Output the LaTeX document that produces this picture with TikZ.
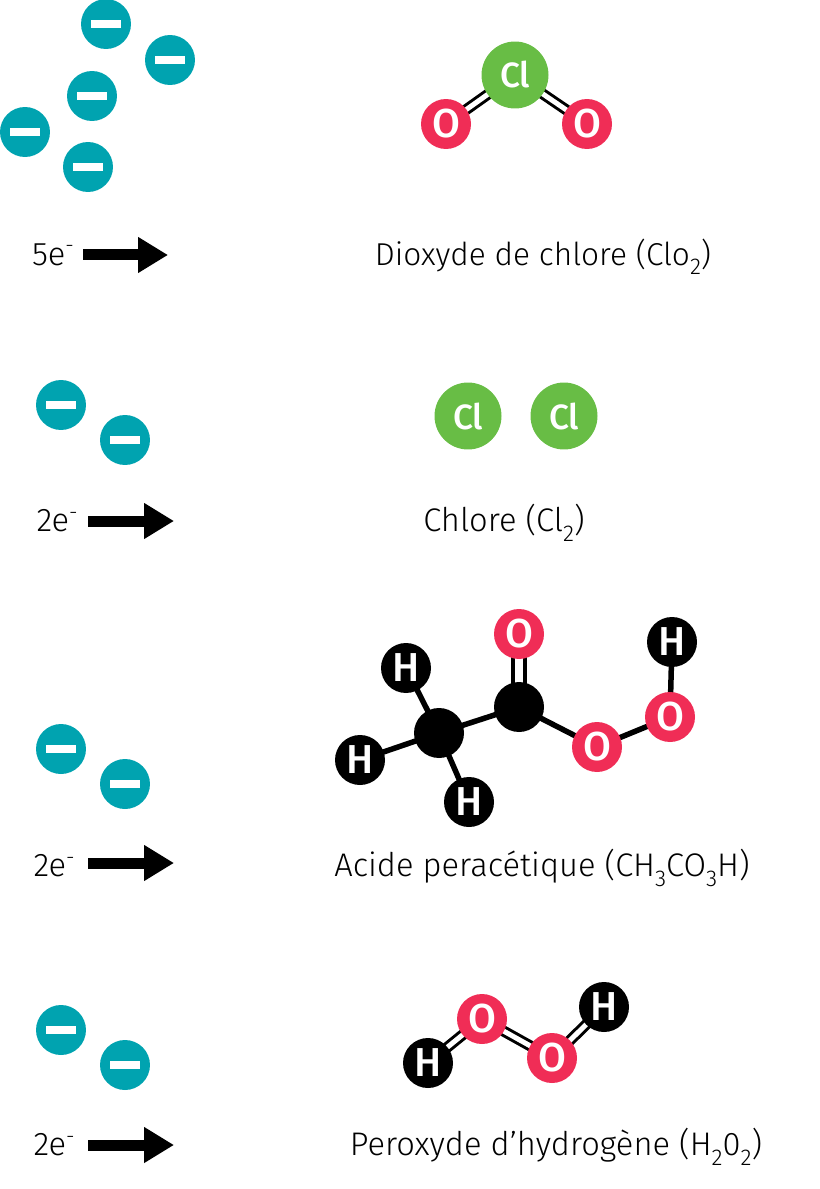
\documentclass[tikz,border=0pt]{standalone}
\usepackage{fontspec}
\setmainfont{Fira Sans}[UprightFont=* Light,BoldFont=* Medium]
\usepackage{xcolor}
\usetikzlibrary{positioning,arrows.meta,backgrounds}
\definecolor{mTeal}{HTML}{00A3B0}
\definecolor{mRed}{HTML}{F02D56}
\definecolor{mGreen}{HTML}{68BD45}
\tikzset{
 electron/.style={circle, fill=mTeal, minimum size=1cm, inner sep=0pt},
 minusbar/.style={fill=white, minimum width=0.62cm, minimum height=0.17cm, inner sep=0pt},
 atom/.style={circle, minimum size=1cm, inner sep=0pt, font=\fontsize{23}{23}\selectfont\bfseries, text=white},
 atomO/.style={atom, fill=mRed},
 atomH/.style={atom, fill=black},
 atomCl/.style={atom, fill=mGreen, minimum size=1.34cm, font=\fontsize{20}{20}\selectfont\bfseries},
 bond/.style={line width=0.11cm, shorten <=-3pt, shorten >=-3pt},
 dbond/.style={line width=0.06cm, double=white, double distance=0.1cm, shorten <=-3pt, shorten >=-3pt},
 bigarrow/.style={line width=0.22cm, -{Triangle[length=0.6cm,width=0.68cm]}},
 lbl/.style={font=\fontsize{18.6}{18.6}\selectfont, inner sep=0pt}
}
\newcommand{\elec}[3]{%
 \node[electron] (#3) at (#1,#2) {};%
 \node[minusbar] (#3b) at (#3) {};}
\newcommand{\sbs}[1]{\raisebox{-0.55ex}{\fontsize{13}{13}\selectfont #1}}
\newcommand{\sps}[1]{\raisebox{0.75ex}{\fontsize{12}{12}\selectfont #1}}
\begin{document}
\begin{tikzpicture}[x=0.02cm,y=-0.02cm]
\useasboundingbox (0,0) rectangle (819,1189);
% electrons
\elec{106}{24}{ea1}
\elec{170}{60}{ea2}
\elec{92}{96}{ea3}
\elec{25}{132}{ea4}
\elec{88}{167}{ea5}
\elec{61}{405}{eb1}
\elec{125}{440}{eb2}
\elec{61}{749}{ec1}
\elec{125}{784}{ec2}
\elec{61}{1030}{ed1}
\elec{125}{1065}{ed2}
% counts and arrows
\node[lbl] (na) at (53,255) {5e\sps{-}};
\node[lbl] (nb) at (57,521) {2e\sps{-}};
\node[lbl] (nc) at (54,866) {2e\sps{-}};
\node[lbl] (nd) at (54,1145) {2e\sps{-}};
\coordinate (aas) at (83,255);
\coordinate (aae) at (168,255);
\coordinate (abs) at (88,521);
\coordinate (abe) at (174,521);
\coordinate (acs) at (88,863);
\coordinate (ace) at (174,863);
\coordinate (ads) at (88,1145);
\coordinate (ade) at (174,1145);
\draw[bigarrow] (aas) -- (aae);
\draw[bigarrow] (abs) -- (abe);
\draw[bigarrow] (acs) -- (ace);
\draw[bigarrow] (ads) -- (ade);
% chlorine dioxide
\node[atomCl] (cl) at (515,75) {Cl};
\node[atomO] (o1) at (446,124) {O};
\node[atomO] (o2) at (587,124) {O};
\node[lbl, font=\fontsize{18}{18}\selectfont] (la) at (543,257) {Dioxyde de chlore (Clo\sbs{2})};
% chlorine
\node[atomCl] (cl1) at (468,416) {Cl};
\node[atomCl] (cl2) at (564,416) {Cl};
\node[lbl] (lb) at (504,523) {Chlore (Cl\sbs{2})};
% peracetic acid
\node[atomH] (h1) at (406,668) {H};
\node[atomH] (h2) at (360,760) {H};
\node[atomH] (h3) at (469,802) {H};
\node[atomH] (c1) at (439,733) {};
\node[atomH] (c2) at (519,707) {};
\node[atomO] (o3) at (519,634) {O};
\node[atomO] (o4) at (597,747) {O};
\node[atomO] (o5) at (670,717) {O};
\node[atomH] (h4) at (672,642) {H};
\node[lbl] (lc) at (542,868) {Acide peracétique (CH\sbs{3}CO\sbs{3}H)};
% hydrogen peroxide
\node[atomH] (h5) at (428,1063) {H};
\node[atomO] (o6) at (482,1019) {O};
\node[atomO] (o7) at (552,1058) {O};
\node[atomH] (h6) at (604,1007) {H};
\node[lbl] (ld) at (556,1147) {Peroxyde d’hydrogène (H\sbs{2}0\sbs{2})};
% bonds
\begin{scope}[on background layer]
\draw[dbond] (cl) -- (o1);
\draw[dbond] (cl) -- (o2);
\draw[bond] (h1) -- (c1);
\draw[bond] (h2) -- (c1);
\draw[bond] (h3) -- (c1);
\draw[bond] (c1) -- (c2);
\draw[dbond, double distance=0.16cm, line width=0.08cm] (c2) -- (o3);
\draw[bond] (c2) -- (o4);
\draw[bond] (o4) -- (o5);
\draw[bond] (o5) -- (h4);
\draw[dbond] (h5) -- (o6);
\draw[dbond] (o6) -- (o7);
\draw[dbond] (o7) -- (h6);
\end{scope}
\end{tikzpicture}
\end{document}
